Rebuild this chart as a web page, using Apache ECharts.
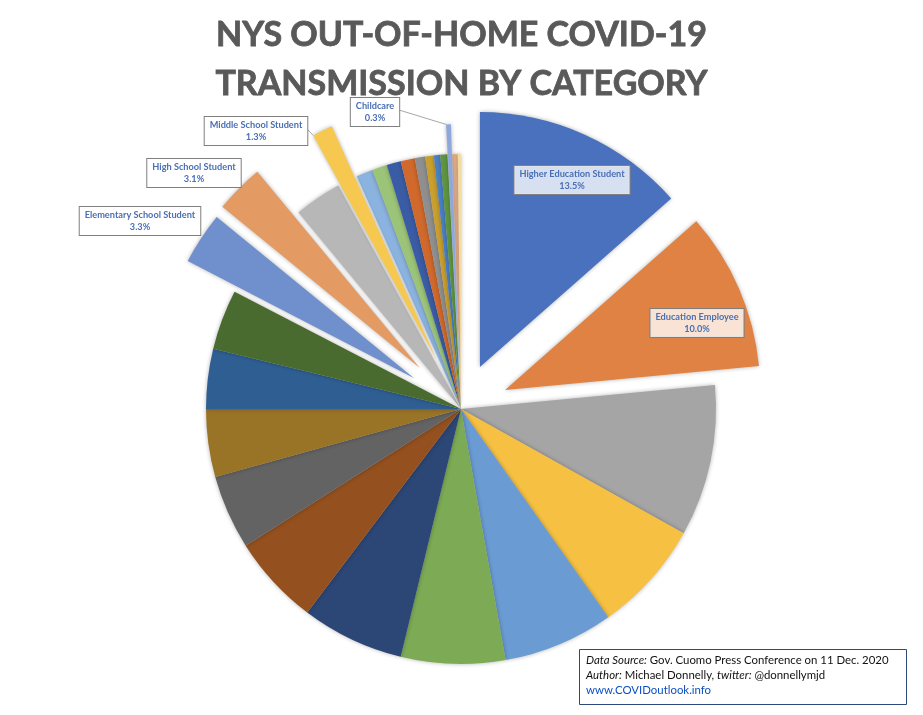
<!DOCTYPE html>
<html>
<head>
<meta charset="utf-8">
<title>NYS Out-of-Home COVID-19 Transmission</title>
<script src="https://cdn.jsdelivr.net/npm/echarts@6/dist/echarts.min.js"></script>
<style>
  html, body { margin: 0; padding: 0; background: #fff; }
  #chart { width: 923px; height: 715px; }
</style>
</head>
<body>
<div id="chart"></div>
<script>
// only six slices are named in the picture, the rest are just placeholders
const categories = [
  'Higher Education Student', 'Education Employee', 'Slice 3', 'Slice 4', 'Slice 5',
  'Slice 6', 'Slice 7', 'Slice 8', 'Slice 9', 'Slice 10', 'Slice 11', 'Slice 12',
  'Elementary School Student', 'High School Student', 'Slice 15', 'Middle School Student',
  'Slice 17', 'Slice 18', 'Slice 19', 'Slice 20', 'Slice 21', 'Slice 22', 'Slice 23',
  'Slice 24', 'Childcare', 'Slice 26', 'Slice 27'
]
const shares = [
  13.5, 10.0, 9.6, 7.1, 7.0,
  6.6, 6.5, 5.7, 4.7, 4.3, 3.8, 3.8,
  3.3, 3.1, 3.0, 1.3,
  1.05, 0.95, 0.9, 0.9, 0.65, 0.55, 0.4,
  0.45, 0.3, 0.35, 0.2
]
const colors = [
  '#4a71bd', '#e08243', '#a5a5a5', '#f6c143', '#6a9bd2',
  '#7dab55', '#2c4675', '#94501f', '#636363', '#997326', '#2f5f92', '#4a6b30',
  '#7090cd', '#e39a63', '#b7b7b7', '#f6c84f',
  '#8bb3df', '#9cc478', '#3a5ca5', '#d0692b', '#8f8f8f', '#c9a02e', '#4a80c4',
  '#5f9440', '#8fa8dc', '#e8b28c', '#f2dca0'
]

// how far each group of slices is pulled out of the pie
const explodeGroups = [
  { offset: 46, names: ['Higher Education Student'] },
  { offset: 48, names: ['Education Employee'] },
  { offset: 56, names: ['Elementary School Student', 'Middle School Student'] },
  { offset: 58, names: ['High School Student'] },
  { offset: 30, names: ['Childcare'] }
]
// label box centres
const labelBoxes = {
  'Higher Education Student': { x: 572, y: 180, bg: 'rgba(255,255,255,0.78)' },
  'Education Employee': { x: 697, y: 323, bg: 'rgba(255,255,255,0.78)' },
  'Elementary School Student': { x: 140, y: 221, bg: '#fff' },
  'High School Student': { x: 194, y: 173, bg: '#fff' },
  'Middle School Student': { x: 256, y: 131, bg: '#fff' },
  'Childcare': { x: 375, y: 112, bg: '#fff' }
}
// leader lines start on the box edge
const leaderStarts = {
  'Middle School Student': [308, 130],
  'Childcare': [399, 110]
}
const exploded = explodeGroups.flatMap((g) => g.names)
const FONT = 'Lato, "Open Sans", sans-serif'
const NOTE_SIZE = 11.4
const PIE_CENTER = [461, 409]
const PIE_RADIUS = 255

const sliceShadow = { shadowBlur: 4, shadowColor: 'rgba(0,0,0,0.3)' }

function pieBase() {
  return {
    type: 'pie',
    center: PIE_CENTER,
    radius: [0, PIE_RADIUS],
    startAngle: 90,
    clockwise: true,
    animation: false,
    silent: true,
    avoidLabelOverlap: false,
    labelLine: { show: false }
  }
}

function sliceSeries(keep, offset) {
  return {
    ...pieBase(),
    selectedMode: 'multiple',
    selectedOffset: offset,
    select: { itemStyle: { borderWidth: 0 } },
    label: { show: false },
    data: categories.map((name, i) => {
      const on = keep(name)
      return {
        name,
        value: shares[i],
        selected: on && offset > 0,
        itemStyle: on ? { color: colors[i], ...sliceShadow } : { color: 'transparent' }
      }
    })
  }
}

// labels sit in their own see-through pie, a selected slice drags its label along
function labelSeries() {
  return {
    ...pieBase(),
    z: 5,
    labelLayout: (params) => {
      const box = labelBoxes[categories[params.dataIndex]]
      if (!box) return {}
      return { x: box.x, y: box.y, align: 'center', verticalAlign: 'middle' }
    },
    data: categories.map((name, i) => {
      const box = labelBoxes[name]
      const item = {
        name,
        value: shares[i],
        itemStyle: { color: 'transparent' },
        label: { show: false }
      }
      if (box) {
        item.label = {
          show: true,
          position: 'outside',
          formatter: (p) => p.name + '\n' + p.value.toFixed(1) + '%',
          fontFamily: FONT,
          fontWeight: 'bold',
          fontSize: 9.2,
          lineHeight: 12,
          align: 'center',
          color: '#4a6fb5',
          backgroundColor: box.bg,
          borderColor: '#7f7f7f',
          borderWidth: 1,
          padding: [2, 5]
        }
      }
      return item
    })
  }
}

// outer left corner of a pulled-out slice, worked out from the shares
function sliceCorner(name) {
  const idx = categories.indexOf(name)
  const before = shares.slice(0, idx).reduce((a, b) => a + b, 0)
  const total = shares.reduce((a, b) => a + b, 0)
  const start = (before / total) * 2 * Math.PI
  const mid = ((before + shares[idx] / 2) / total) * 2 * Math.PI
  const offset = explodeGroups.find((g) => g.names.includes(name)).offset
  return [
    PIE_CENTER[0] + offset * Math.sin(mid) + PIE_RADIUS * Math.sin(start),
    PIE_CENTER[1] - offset * Math.cos(mid) - PIE_RADIUS * Math.cos(start)
  ]
}

const leaderLines = Object.keys(leaderStarts).map((name) => {
  const from = leaderStarts[name]
  const to = sliceCorner(name)
  return {
    type: 'line',
    silent: true,
    z: 4,
    shape: { x1: from[0], y1: from[1], x2: to[0], y2: to[1] },
    style: { stroke: '#a6a6a6', lineWidth: 1 }
  }
})

// frame of the source note
const sourceBox = {
  type: 'rect',
  silent: true,
  z: 4,
  shape: { x: 579.5, y: 649.5, width: 327, height: 55 },
  style: { fill: '#fff', stroke: '#2f4a7a', lineWidth: 1 }
}

const myChart = echarts.init(document.getElementById('chart'))
myChart.setOption({
  animation: false,
  title: [
    {
      text: 'NYS OUT-OF-HOME COVID-19\nTRANSMISSION BY CATEGORY',
      left: 'center',
      top: 6,
      textStyle: {
        fontFamily: FONT,
        fontWeight: 'bold',
        fontSize: 34,
        lineHeight: 49,
        color: '#595959',
        textBorderColor: '#595959',
        textBorderWidth: 0.8
      }
    },
    {
      text: [
        '{i|Data Source:} {n|Gov. Cuomo Press Conference on 11 Dec. 2020}',
        '{i|Author:} {n|Michael Donnelly,} {i|twitter:} {n|@donnellymjd}',
        '{l|www.COVIDoutlook.info}'
      ].join('\n'),
      left: 579,
      top: 648,
      z: 8,
      padding: [5, 0, 5, 7],
      textStyle: {
        fontFamily: FONT,
        fontWeight: 'normal',
        fontSize: NOTE_SIZE,
        lineHeight: 15,
        rich: {
          i: { fontFamily: FONT, fontSize: NOTE_SIZE, fontStyle: 'italic', fontWeight: 'normal', color: '#111', lineHeight: 15 },
          n: { fontFamily: FONT, fontSize: NOTE_SIZE, fontWeight: 'normal', color: '#111', lineHeight: 15 },
          l: { fontFamily: FONT, fontSize: NOTE_SIZE, fontWeight: 'normal', color: '#0b4fc4', lineHeight: 15 }
        }
      }
    }
  ],
  graphic: [...leaderLines, sourceBox],
  series: [
    sliceSeries((name) => !exploded.includes(name), 0),
    ...explodeGroups.map((g) => sliceSeries((name) => g.names.includes(name), g.offset)),
    labelSeries()
  ]
})
</script>
</body>
</html>
